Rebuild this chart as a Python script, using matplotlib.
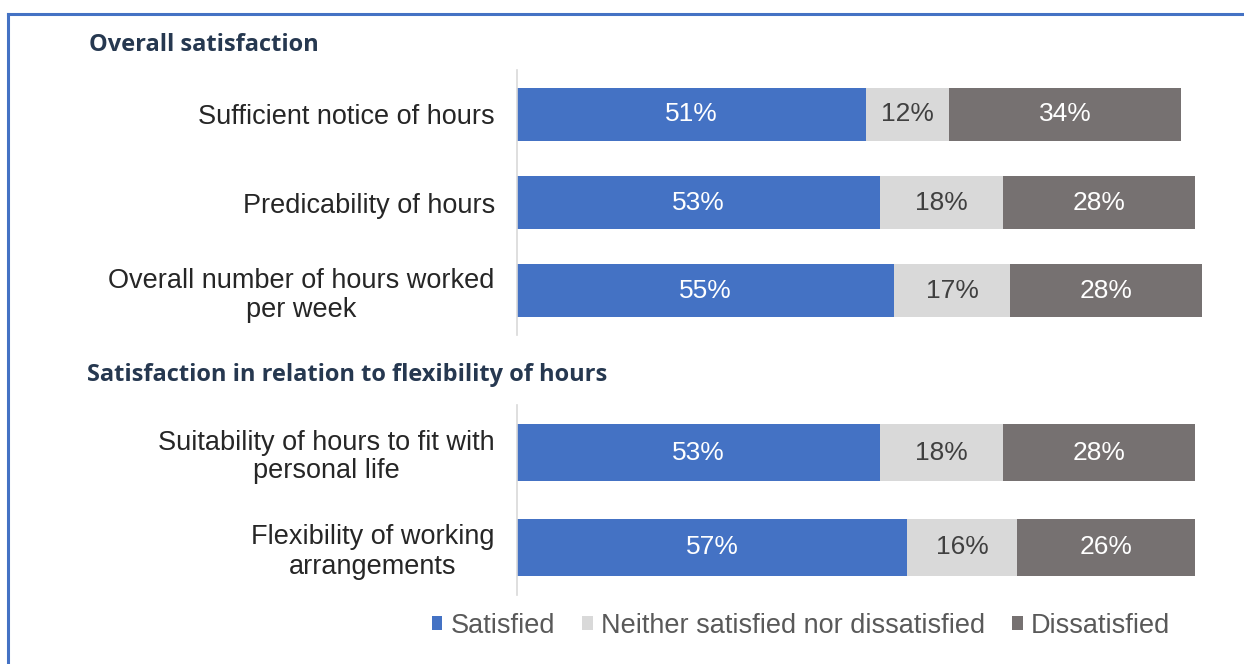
import matplotlib.pyplot as plt
from matplotlib.lines import Line2D
from matplotlib.patches import Patch

plt.rcParams["font.family"] = ["Liberation Sans", "DejaVu Sans"]

W, H = 1244, 664

SERIES = ["Satisfied", "Neither satisfied nor dissatisfied", "Dissatisfied"]
COLORS = ["#4472C4", "#D9D9D9", "#767171"]
TEXT_COLORS = ["white", "#404040", "white"]

TITLE_1 = "Overall satisfaction"
ITEMS_1 = [
    "Sufficient notice of hours",
    "Predicability of hours",
    "Overall number of hours worked\nper week",
]
SATISFIED_1 = [51, 53, 55]
NEITHER_1 = [12, 18, 17]
DISSATISFIED_1 = [34, 28, 28]

TITLE_2 = "Satisfaction in relation to flexibility of hours"
ITEMS_2 = [
    "Suitability of hours to fit with\npersonal life",
    "Flexibility of working\narrangements",
]
SATISFIED_2 = [53, 57]
NEITHER_2 = [18, 16]
DISSATISFIED_2 = [28, 26]


def px_axes(fig, left, top, right, bottom):
    return fig.add_axes([left / W, 1 - bottom / H, (right - left) / W, (bottom - top) / H])


def stacked(ax, items, groups):
    y = list(range(len(items)))
    left = [0] * len(items)
    for vals, color, tcolor in zip(groups, COLORS, TEXT_COLORS):
        bars = ax.barh(y, vals, left=left, height=0.6, color=color)
        ax.bar_label(bars, labels=[f"{v}%" for v in vals], label_type="center",
                     color=tcolor, fontsize=19)
        left = [a + b for a, b in zip(left, vals)]
    ax.set_xlim(0, 100)
    ax.set_ylim(len(items) - 0.5, -0.5)
    ax.set_yticks(y)
    ax.set_yticklabels(items, fontsize=19.5, color="#262626")
    for lbl in ax.get_yticklabels():
        lbl.set_multialignment("center")
        lbl.set_linespacing(1.15)
    ax.tick_params(axis="y", length=0, pad=16)
    ax.set_xticks([])
    for side in ("top", "right", "bottom"):
        ax.spines[side].set_visible(False)
    ax.spines["left"].set_color("#D9D9D9")
    ax.spines["left"].set_linewidth(1.2)


fig = plt.figure(figsize=(W / 100, H / 100), dpi=100)

ax1 = px_axes(fig, 517, 70, 1202, 335)
stacked(ax1, ITEMS_1, [SATISFIED_1, NEITHER_1, DISSATISFIED_1])

ax2 = px_axes(fig, 517, 405, 1202, 595)
stacked(ax2, ITEMS_2, [SATISFIED_2, NEITHER_2, DISSATISFIED_2])

title_kw = dict(fontsize=17, fontweight="bold", color="#263850",
                family=["Open Sans", "DejaVu Sans"], va="center", ha="left")
fig.text(89 / W, 1 - 45 / H, TITLE_1, **title_kw)
fig.text(87 / W, 1 - 375 / H, TITLE_2, **title_kw)

handles = [Patch(facecolor=c, edgecolor="none") for c in COLORS]
leg = fig.legend(handles, SERIES, loc="center", ncol=3,
                 bbox_to_anchor=(801 / W, 1 - 626 / H), frameon=False,
                 fontsize=19.5, handlelength=0.4, handleheight=0.4,
                 handletextpad=0.3, columnspacing=1.0)
for t in leg.get_texts():
    t.set_color("#595959")

# frame lines along the top and left edge
fig.add_artist(Line2D([8 / W, 8 / W], [0, 1 - 14 / H], color="#4472C4", lw=2.2))
fig.add_artist(Line2D([8 / W, 1], [1 - 14 / H, 1 - 14 / H], color="#4472C4", lw=2.2))

fig.savefig("out.png", dpi=100)
